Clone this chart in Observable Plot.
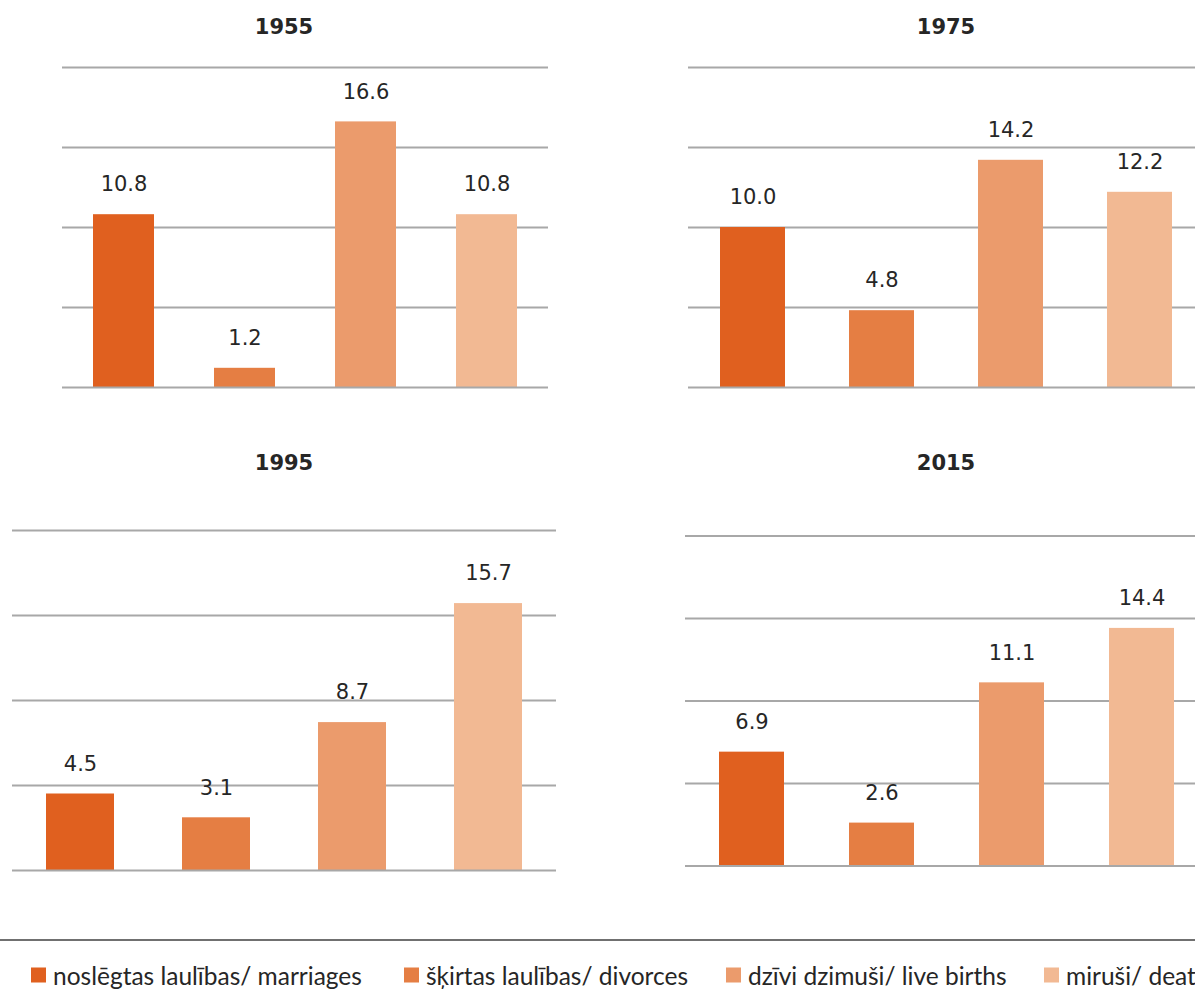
<!DOCTYPE html>
<html>
<head>
<meta charset="utf-8">
<script src="https://cdn.jsdelivr.net/npm/d3@7"></script>
<script src="https://cdn.jsdelivr.net/npm/@observablehq/plot@0.6"></script>
<style>
  html, body { margin: 0; padding: 0; background: #fff; }
  #root { position: relative; width: 1195px; height: 1008px; overflow: hidden; background: #fff; }
  .panel { position: absolute; }
  .panel svg { display: block; overflow: visible; max-width: none !important; }
  .title { position: absolute; transform: translate(-50%, -50%); font-family: "DejaVu Sans", sans-serif; font-weight: bold; font-size: 21px; color: #262626; white-space: nowrap; }
  .legend-line { position: absolute; left: 0; width: 1195px; top: 939px; height: 2px; background: #707070; }
  .legend-item { position: absolute; top: 975px; transform: translateY(-50%); display: flex; align-items: center; white-space: nowrap; font-family: Lato, "Noto Sans", sans-serif; font-size: 24.5px; color: #262626; }
  .legend-item .sw { width: 15px; height: 15px; margin-right: 7px; flex: none; }
</style>
</head>
<body>
<div id="root"></div>
<script>
// ---- data ----
const categories = ["noslēgtas laulības/ marriages", "šķirtas laulības/ divorces", "dzīvi dzimuši/ live births", "miruši/ deaths"];
const years = ["1955", "1975", "1995", "2015"];
const values1955 = [10.8, 1.2, 16.6, 10.8];
const values1975 = [10.0, 4.8, 14.2, 12.2];
const values1995 = [4.5, 3.1, 8.7, 15.7];
const values2015 = [6.9, 2.6, 11.1, 14.4];
const yTicks = [0, 5, 10, 15, 20];

// ---- styles / layout ----
const colors = ["#E0601F", "#E57E43", "#EB9B6C", "#F2B993"];
const gridColor = "#A8A8A8";
const panels = [
  {year: years[0], values: values1955, left: 0,   top: 0,   width: 600, height: 430, mL: 62, mR: 52, mT: 67,    mB: 43,   tx: 284, ty: 27},
  {year: years[1], values: values1975, left: 600, top: 0,   width: 620, height: 430, mL: 88, mR: 16, mT: 67,    mB: 43,   tx: 946, ty: 27},
  {year: years[2], values: values1995, left: 0,   top: 430, width: 600, height: 470, mL: 12, mR: 44, mT: 100,   mB: 30,   tx: 284, ty: 463},
  {year: years[3], values: values2015, left: 600, top: 430, width: 620, height: 470, mL: 85, mR: 12, mT: 105.5, mB: 34.5, tx: 946, ty: 463}
];
const legendX = [31, 404, 726, 1044];

const root = document.getElementById("root");

for (const p of panels) {
  const data = categories.map((c, i) => ({cat: c, value: p.values[i]}));
  const chart = Plot.plot({
    width: p.width,
    height: p.height,
    marginLeft: p.mL,
    marginRight: p.mR,
    marginTop: p.mT,
    marginBottom: p.mB,
    style: {background: "transparent", overflow: "visible", maxWidth: "none"},
    x: {domain: categories, paddingInner: 0.5, paddingOuter: 0.25, axis: null},
    y: {domain: [yTicks[0], yTicks[yTicks.length - 1]], axis: null},
    color: {domain: categories, range: colors},
    marks: [
      Plot.ruleY(yTicks.slice(1), {stroke: gridColor, strokeWidth: 2}),
      Plot.barY(data, {x: "cat", y: "value", fill: "cat"}),
      Plot.ruleY([yTicks[0]], {stroke: gridColor, strokeWidth: 2}),
      Plot.text(data, {
        x: "cat", y: "value",
        text: d => d.value.toFixed(1),
        dy: -30,
        fontSize: 21,
        fontFamily: "DejaVu Sans",
        fill: "#262626"
      })
    ]
  });
  const div = document.createElement("div");
  div.className = "panel";
  div.style.left = p.left + "px";
  div.style.top = p.top + "px";
  div.style.width = p.width + "px";
  div.style.height = p.height + "px";
  div.appendChild(chart);
  root.appendChild(div);

  const t = document.createElement("div");
  t.className = "title";
  t.style.left = p.tx + "px";
  t.style.top = p.ty + "px";
  t.textContent = p.year;
  root.appendChild(t);
}

// legend
const line = document.createElement("div");
line.className = "legend-line";
root.appendChild(line);
categories.forEach((c, i) => {
  const item = document.createElement("div");
  item.className = "legend-item";
  item.style.left = legendX[i] + "px";
  const sw = document.createElement("span");
  sw.className = "sw";
  sw.style.background = colors[i];
  const tx = document.createElement("span");
  tx.textContent = c;
  item.appendChild(sw);
  item.appendChild(tx);
  root.appendChild(item);
});
</script>
</body>
</html>
